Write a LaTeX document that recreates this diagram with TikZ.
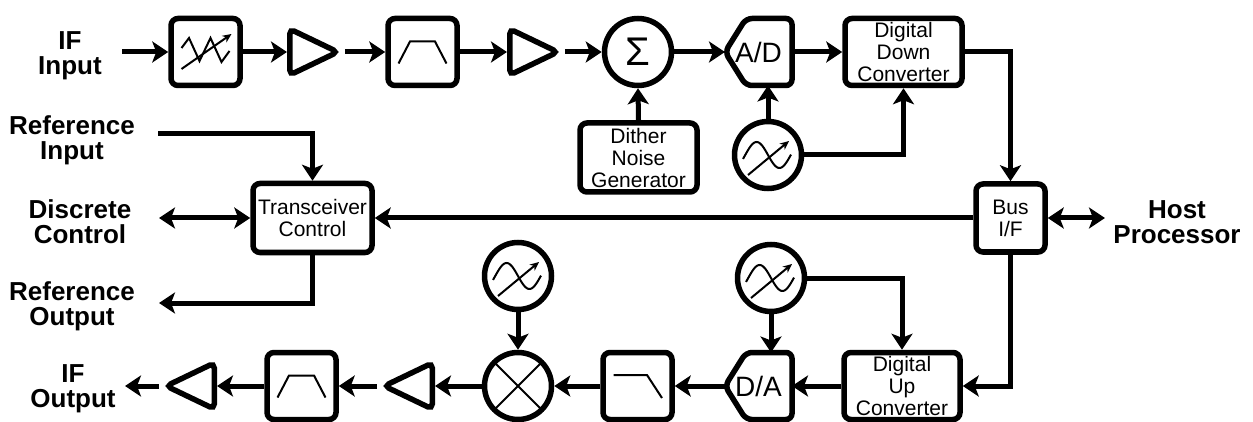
\documentclass[tikz,border=0pt]{standalone}
\usepackage{fontspec}
\setmainfont{Liberation Sans}
\usetikzlibrary{arrows.meta,shapes.geometric}
\begin{document}
\begin{tikzpicture}[x=1pt,y=-1pt,
  blk/.style={draw, line width=5.5pt, rounded corners=7pt, minimum width=69pt, minimum height=67pt, inner sep=0pt, font=\fontsize{21}{22}\selectfont, align=center},
  wide/.style={blk, minimum width=117pt},
  circ/.style={draw, circle, line width=5.5pt, minimum size=67pt, inner sep=0pt},
  ampR/.style={draw, isosceles triangle, isosceles triangle stretches, line width=5.5pt, rounded corners=5pt, minimum width=46pt, minimum height=48pt, inner sep=0pt},
  ampL/.style={ampR, shape border rotate=180},
  conv/.style={minimum width=67pt, minimum height=67pt, inner sep=0pt, outer sep=0pt, font=\fontsize{28}{28}\selectfont},
  convline/.style={draw, line width=5.5pt, rounded corners=6pt},
  lbl/.style={font=\fontsize{26}{25}\selectfont\bfseries, align=center},
  wire/.style={line width=5pt},
  arr/.style={wire, -{Stealth[length=16pt,width=21pt,inset=4pt]}},
  darr/.style={wire, {Stealth[length=16pt,width=21pt,inset=4pt]}-{Stealth[length=16pt,width=21pt,inset=4pt]}},
  icon/.style={line width=2pt},
  oscsym/.pic={
    \draw[icon] plot[domain=-25:23,samples=40,smooth] (\x,{13*sin(7.9*\x)});
    \draw[icon,-{Stealth[length=9pt,width=8pt]}] (-20,20) -- (21,-14);
  },
  attsym/.pic={
    \draw[icon] (-24,-4) -- (-16.5,-14) -- (-6,9) -- (5,-14) -- (16,10) -- (24,-1);
    \draw[icon,-{Stealth[length=9pt,width=8pt]}] (-24,17) -- (26,-18);
  },
  bpsym/.pic={
    \draw[icon] (-24,11.5) -- (-12.5,-10.5) -- (12.5,-10.5) -- (24,11.5);
  },
  lpsym/.pic={
    \draw[icon] (-24,-11) -- (9.5,-11) -- (24.5,12);
  },
]
\useasboundingbox (0,0) rectangle (1253,422);

% ---------- top row ----------
\node[lbl] (ifin) at (70,56) {IF\\Input};
\coordinate (ifinS) at (122,52);
\node[blk] (att) at (205.5,52) {};
\pic at (att.center) {attsym};
\node[ampR, anchor=lower side] (amp1) at (287,52) {};
\node[blk] (bpf1) at (422.5,52) {};
\pic at (bpf1.center) {bpsym};
\node[ampR, anchor=lower side] (amp2) at (507,52) {};
\node[circ] (sum) at (638,52) {\fontsize{40}{40}\selectfont Σ};
\node[conv] (ad) at (758.5,52) {A/D};
\draw[convline] (ad.east) -- (ad.south east) -- ([xshift=21pt]ad.south west) -- (ad.west) -- ([xshift=21pt]ad.north west) -- (ad.north east) -- cycle;
\node[wide] (ddc) at (903.5,52) {Digital\\Down\\Converter};

\node[wide, minimum height=69pt] (dither) at (638.5,157.5) {Dither\\Noise\\Generator};
\node[circ] (osc1) at (768,155) {};
\pic at (osc1.center) {oscsym};

% ---------- middle ----------
\node[lbl] (refin) at (72,140) {Reference\\Input};
\coordinate (refinS) at (158,134);
\node[lbl] (disc) at (80,222) {Discrete\\Control};
\coordinate (discE) at (159,218);
\node[lbl] (refout) at (72,306) {Reference\\Output};
\coordinate (refoutE) at (159,303);
\node[blk, minimum width=119pt, minimum height=69pt] (tc) at (312.5,218) {Transceiver\\Control};
\node[blk, minimum height=68pt] (bus) at (1010.5,218) {Bus\\I/F};
\node[lbl] (host) at (1177,222) {Host\\Processor};
\coordinate (hostE) at (1105,218);

% ---------- bottom row ----------
\node[lbl] (ifout) at (73,389) {IF\\Output};
\coordinate (ifoutE) at (125,386);
\node[ampL, anchor=lower side] (amp3) at (217,386) {};
\node[blk] (bpf2) at (301.5,386) {};
\pic at (bpf2.center) {bpsym};
\node[ampL, anchor=lower side] (amp4) at (435,386) {};
\node[circ] (mix) at (518,386) {};
\draw[icon, shift={(mix.center)}] (-23,-23) -- (23,23) (-23,23) -- (23,-23);
\node[circ] (osc3) at (518,276) {};
\pic at (osc3.center) {oscsym};
\node[blk] (lpf) at (637.5,386) {};
\pic at (lpf.center) {lpsym};
\node[conv] (da) at (758.5,386) {D/A};
\draw[convline] (da.east) -- (da.south east) -- ([xshift=21pt]da.south west) -- (da.west) -- ([xshift=21pt]da.north west) -- (da.north east) -- cycle;
\node[circ] (osc2) at (771,278) {};
\pic at (osc2.center) {oscsym};
\node[wide, minimum width=116pt] (duc) at (902,386) {Digital\\Up\\Converter};

% ---------- connectors ----------
\draw[arr] (ifinS) -- (att.west);
\draw[arr] (att.east) -- (amp1.lower side);
\draw[arr] (amp1.apex) -- (bpf1.west);
\draw[arr] (bpf1.east) -- (amp2.lower side);
\draw[arr] (amp2.apex) -- (sum.west);
\draw[arr] (sum.east) -- (ad.west);
\draw[arr] (ad.east) -- (ddc.west);
\draw[arr] (dither.north) -- (sum.south);
\draw[arr] (osc1.north) -- (osc1.north |- ad.south);
\draw[arr] (osc1.east) -| (ddc.south);
\draw[arr] (ddc.east) -| (bus.north);
\draw[arr] (bus.west) -- (tc.east);
\draw[darr] (bus.east) -- (hostE);
\draw[arr] (refinS) -| (tc.north);
\draw[darr] (discE) -- (tc.west);
\draw[arr] (tc.south) |- (refoutE);
\draw[arr] (bus.south) |- (duc.east);
\draw[arr] (duc.west) -- (da.east);
\draw[arr] (osc2.south) -- (osc2.south |- da.north);
\draw[arr] (osc2.east) -| (duc.north);
\draw[arr] (da.west) -- (lpf.east);
\draw[arr] (lpf.west) -- (mix.east);
\draw[arr] (osc3.south) -- (mix.north);
\draw[arr] (mix.west) -- (amp4.lower side);
\draw[arr] (amp4.apex) -- (bpf2.east);
\draw[arr] (bpf2.west) -- (amp3.lower side);
\draw[arr] (amp3.apex) -- (ifoutE);
\end{tikzpicture}
\end{document}
